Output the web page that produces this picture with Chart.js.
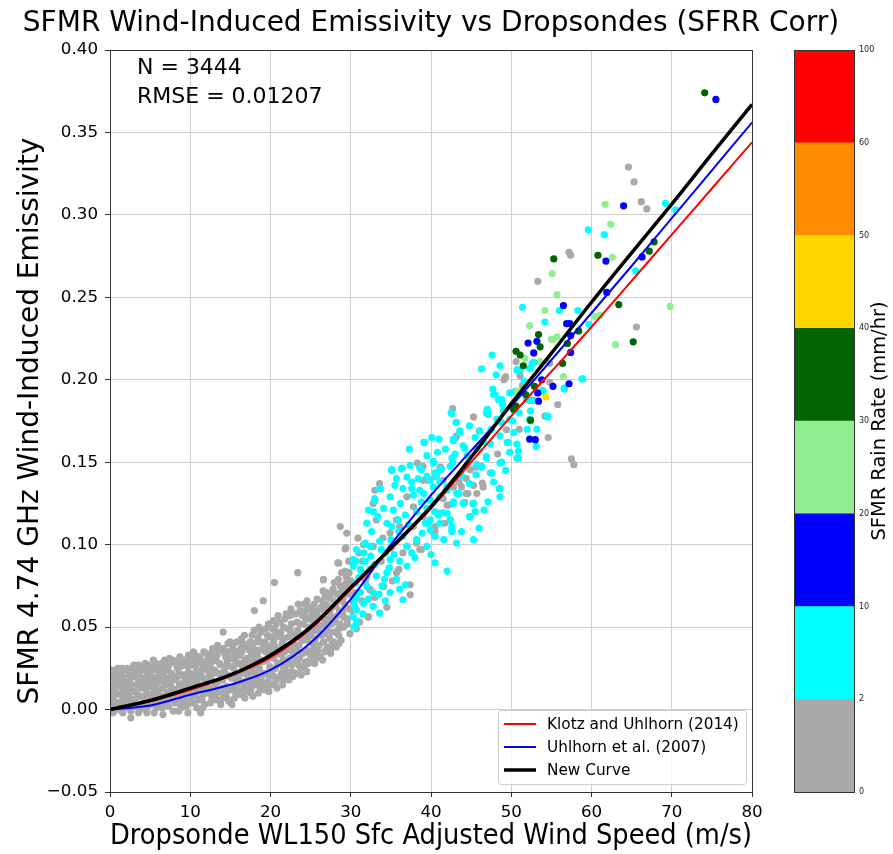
<!DOCTYPE html>
<html>
<head>
<meta charset="utf-8">
<script src="https://cdn.jsdelivr.net/npm/chart.js@4/dist/chart.umd.min.js"></script>
<style>
  html, body { margin: 0; padding: 0; background: #fff; }
  #wrap { position: relative; width: 893px; height: 854px; }
  #main { position: absolute; left: 0; top: 0; }
  #cbar { position: absolute; left: 773px; top: 0; }
</style>
</head>
<body>
<div id="wrap">
  <canvas id="main" width="893" height="854"></canvas>
  <canvas id="cbar" width="120" height="854"></canvas>
</div>
<script>
const FONT = 'DejaVu Sans'

// model curves, sampled every 5 m/s
const windGrid = [0, 5, 10, 15, 20, 25, 30, 35, 40, 45, 50, 55, 60, 65, 70, 75, 80]
const klotz2014 = [0, 0.005, 0.012, 0.0205, 0.0315, 0.049, 0.073, 0.097, 0.122, 0.150, 0.178, 0.205, 0.232, 0.260, 0.288, 0.316, 0.344]
const uhlhorn2007 = [0, 0.0025, 0.009, 0.015, 0.024, 0.0405, 0.067, 0.100, 0.130, 0.157, 0.184, 0.212, 0.2405, 0.269, 0.298, 0.327, 0.356]
const newCurve = [0, 0.0055, 0.013, 0.021, 0.033, 0.050, 0.074, 0.098, 0.123, 0.153, 0.1855, 0.216, 0.247, 0.277, 0.3065, 0.337, 0.367]

// rain-rate bins for the colour bar
const rainBins = ['0', '2', '10', '20', '30', '40', '50', '60', '100']
const rainColors = ['#a9a9a9', '#00ffff', '#0000ff', '#90ee90', '#006400', '#ffd700', '#ff8c00', '#ff0000']

// scatter points, flat x,y pairs, one list per rain bin
const rain0to2 = [
  0.1,0.002, 0.2,0.012, 0.3,0.020, 0.4,0.006, 0.5,0.016, 0.6,0.023, 0.7,0.000, 0.8,0.010, 0.9,0.018, 0.5,-0.001, 0.2,0.007, 0.9,0.004,
  0.05,0.014, 0.25,0.024, 0.35,-0.002, 0.45,0.009, 0.65,0.013, 0.75,0.021, 0.85,0.003, 0.95,0.025, 0.55,0.005,
  1.1,0.001, 1.3,0.014, 1.4,0.022, 1.6,0.007, 1.7,0.018, 1.9,0.003, 1.2,0.009, 1.8,0.012, 1.5,0.025, 1.6,-0.002,
  1.05,0.020, 1.25,0.004, 1.35,0.017, 1.45,-0.001, 1.65,0.011, 1.75,0.024, 1.85,0.006, 1.95,0.016, 1.55,0.020,
  2.1,0.016, 2.2,0.004, 2.4,0.021, 2.5,0.010, 2.6,-0.001, 2.7,0.015, 2.8,0.024, 2.9,0.006, 2.3,0.012, 2.6,-0.005,
  2.05,0.008, 2.15,0.025, 2.35,0.001, 2.45,0.017, 2.65,0.006, 2.75,0.020, 2.85,0.011, 2.95,0.027, 2.55,0.023,
  3.1,0.011, 3.2,0.025, 3.3,0.002, 3.5,0.018, 3.6,0.008, 3.7,0.022, 3.8,0.000, 3.9,0.013, 3.4,0.015, 3.6,0.027,
  3.05,0.020, 3.15,0.005, 3.35,0.023, 3.45,0.009, 3.65,0.016, 3.75,0.003, 3.85,0.026, 3.95,0.019, 3.55,-0.002,
  4.1,0.019, 4.2,0.005, 4.3,0.026, 4.5,0.012, 4.6,0.001, 4.7,0.022, 4.8,0.009, 4.9,0.016, 4.4,0.028, 4.6,-0.002,
  4.05,0.008, 4.15,0.024, 4.35,0.015, 4.45,0.003, 4.65,0.019, 4.75,0.027, 4.85,0.005, 4.95,0.023, 4.55,0.009,
  5.1,0.003, 5.2,0.014, 5.3,0.024, 5.5,0.008, 5.6,0.019, 5.7,0.028, 5.8,0.001, 5.9,0.012, 5.4,0.030, 5.5,-0.002,
  5.05,0.021, 5.15,0.009, 5.35,0.017, 5.45,0.026, 5.65,0.004, 5.75,0.015, 5.85,0.024, 5.95,0.020, 5.55,0.011,
  6.1,0.017, 6.2,0.007, 6.3,0.026, 6.5,0.001, 6.6,0.013, 6.7,0.022, 6.8,0.030, 6.9,0.005, 6.4,0.019, 6.6,-0.003,
  6.05,0.010, 6.15,0.024, 6.35,0.004, 6.45,0.028, 6.65,0.018, 6.75,0.008, 6.85,0.026, 6.95,0.015, 6.55,0.021,
  7.1,0.010, 7.2,0.024, 7.3,0.002, 7.5,0.016, 7.6,0.029, 7.7,0.007, 7.8,0.020, 7.9,0.012, 7.4,0.031, 7.9,-0.001,
  7.05,0.019, 7.15,0.004, 7.35,0.027, 7.45,0.011, 7.65,0.022, 7.75,0.013, 7.85,0.030, 7.95,0.006, 7.55,0.009,
  8.1,0.004, 8.2,0.018, 8.3,0.027, 8.5,0.010, 8.6,0.022, 8.7,0.032, 8.8,0.001, 8.9,0.014, 8.4,0.025, 8.6,0.007,
  8.05,0.012, 8.15,0.029, 8.35,0.008, 8.45,0.020, 8.65,0.015, 8.75,0.026, 8.85,0.004, 8.95,0.030, 8.55,-0.001,
  9.1,0.021, 9.2,0.008, 9.3,0.030, 9.5,0.002, 9.6,0.015, 9.7,0.026, 9.8,0.033, 9.9,0.010, 9.4,0.019, 9.7,-0.002,
  9.05,0.016, 9.15,0.027, 9.35,0.012, 9.45,0.005, 9.65,0.022, 9.75,0.031, 9.85,0.018, 9.95,0.005, 9.55,0.028,
  10.1,0.013, 10.2,0.027, 10.3,0.004, 10.5,0.020, 10.6,0.033, 10.7,0.009, 10.8,0.024, 10.9,0.016, 10.4,0.035, 10.8,0.001,
  10.05,0.022, 10.15,0.007, 10.35,0.030, 10.45,0.016, 10.65,0.011, 10.75,0.028, 10.85,0.020, 10.95,0.032, 10.55,0.004,
  11.1,0.006, 11.2,0.020, 11.3,0.030, 11.5,0.012, 11.6,0.025, 11.7,0.035, 11.8,0.003, 11.9,0.017, 11.4,0.028, 11.6,0.009, 11.3,-0.002,
  11.05,0.014, 11.15,0.032, 11.35,0.022, 11.45,0.006, 11.65,0.019, 11.75,0.028, 11.85,0.012, 11.95,0.034, 11.55,0.001,
  12.1,0.024, 12.2,0.010, 12.3,0.033, 12.5,0.004, 12.6,0.018, 12.7,0.029, 12.8,0.037, 12.9,0.013, 12.4,0.021, 12.7,0.007,
  12.05,0.016, 12.15,0.030, 12.35,0.013, 12.45,0.026, 12.65,0.011, 12.75,0.035, 12.85,0.022, 12.95,0.006, 12.55,0.032,
  13.1,0.015, 13.2,0.030, 13.3,0.006, 13.5,0.022, 13.6,0.036, 13.7,0.011, 13.8,0.027, 13.9,0.019, 13.4,0.039, 13.8,0.003,
  13.05,0.024, 13.15,0.009, 13.35,0.033, 13.45,0.017, 13.65,0.028, 13.75,0.005, 13.85,0.037, 13.95,0.013, 13.55,0.012,
  14.1,0.008, 14.2,0.023, 14.3,0.034, 14.5,0.014, 14.6,0.029, 14.7,0.040, 14.8,0.005, 14.9,0.020, 14.4,0.032, 14.6,0.011, 14.1,0.047,
  14.05,0.018, 14.15,0.037, 14.35,0.010, 14.45,0.026, 14.65,0.021, 14.75,0.035, 14.85,0.013, 14.95,0.041, 14.55,0.007,
  15.1,0.026, 15.2,0.012, 15.3,0.037, 15.5,0.007, 15.6,0.021, 15.7,0.032, 15.8,0.041, 15.9,0.016, 15.4,0.025, 15.7,0.009, 15.2,0.003,
  15.05,0.031, 15.15,0.019, 15.35,0.014, 15.45,0.040, 15.65,0.028, 15.75,0.018, 15.85,0.035, 15.95,0.011, 15.55,0.034,
  16.1,0.018, 16.2,0.033, 16.3,0.009, 16.5,0.026, 16.6,0.040, 16.7,0.014, 16.8,0.030, 16.9,0.022, 16.4,0.043, 16.8,0.007, 16.3,0.037,
  16.05,0.012, 16.15,0.028, 16.35,0.022, 16.45,0.035, 16.65,0.017, 16.75,0.045, 16.85,0.038, 16.95,0.013, 16.55,0.010,
  17.1,0.011, 17.2,0.027, 17.3,0.038, 17.5,0.017, 17.6,0.033, 17.7,0.045, 17.8,0.008, 17.9,0.024, 17.4,0.036, 17.6,0.013, 17.2,0.020,
  17.05,0.031, 17.15,0.016, 17.35,0.029, 17.45,0.041, 17.65,0.023, 17.75,0.039, 17.85,0.015, 17.95,0.048, 17.55,0.010,
  18.1,0.030, 18.2,0.015, 18.3,0.041, 18.5,0.010, 18.6,0.025, 18.7,0.036, 18.8,0.047, 18.9,0.020, 18.4,0.028, 18.7,0.013, 18.0,0.060, 18.3,0.021,
  18.05,0.019, 18.15,0.036, 18.35,0.033, 18.45,0.044, 18.65,0.017, 18.75,0.041, 18.85,0.030, 18.95,0.014, 18.55,0.050,
  19.1,0.022, 19.2,0.038, 19.3,0.012, 19.5,0.030, 19.6,0.045, 19.7,0.017, 19.8,0.034, 19.9,0.026, 19.4,0.049, 19.8,0.011, 19.1,0.066, 19.3,0.041,
  19.05,0.029, 19.15,0.016, 19.35,0.035, 19.45,0.022, 19.65,0.039, 19.75,0.052, 19.85,0.020, 19.95,0.044, 19.55,0.013,
  20.1,0.015, 20.2,0.032, 20.3,0.044, 20.5,0.020, 20.6,0.038, 20.7,0.052, 20.8,0.013, 20.9,0.028, 20.4,0.041, 20.6,0.025, 20.5,0.077, 20.2,0.049,
  20.05,0.037, 20.15,0.023, 20.35,0.054, 20.45,0.031, 20.65,0.017, 20.75,0.045, 20.85,0.034, 20.95,0.057, 20.55,0.048,
  21.1,0.036, 21.2,0.019, 21.3,0.047, 21.5,0.015, 21.6,0.030, 21.7,0.043, 21.8,0.055, 21.9,0.024, 21.4,0.033, 21.7,0.018, 21.2,0.053,
  21.05,0.028, 21.15,0.044, 21.35,0.022, 21.45,0.040, 21.65,0.050, 21.75,0.035, 21.85,0.021, 21.95,0.058, 21.55,0.026,
  22.1,0.028, 22.2,0.044, 22.3,0.018, 22.5,0.036, 22.6,0.052, 22.7,0.023, 22.8,0.040, 22.9,0.031, 22.4,0.057, 22.8,0.020, 22.2,0.049,
  22.05,0.037, 22.15,0.021, 22.35,0.031, 22.45,0.048, 22.65,0.027, 22.75,0.058, 22.85,0.034, 22.95,0.045, 22.55,0.061,
  23.1,0.022, 23.2,0.039, 23.3,0.053, 23.5,0.027, 23.6,0.045, 23.7,0.060, 23.8,0.021, 23.9,0.034, 23.4,0.048, 23.6,0.031, 23.4,0.083, 23.1,0.058,
  23.05,0.045, 23.15,0.030, 23.35,0.036, 23.45,0.064, 23.65,0.052, 23.75,0.025, 23.85,0.043, 23.95,0.057, 23.55,0.039,
  24.1,0.042, 24.2,0.026, 24.3,0.056, 24.5,0.023, 24.6,0.036, 24.7,0.050, 24.8,0.062, 24.9,0.030, 24.4,0.045, 24.7,0.028, 24.2,0.064,
  24.05,0.034, 24.15,0.052, 24.35,0.029, 24.45,0.060, 24.65,0.042, 24.75,0.055, 24.85,0.034, 24.95,0.047, 24.55,0.066,
  25.1,0.032, 25.2,0.049, 25.3,0.060, 25.5,0.028, 25.6,0.043, 25.7,0.057, 25.8,0.067, 25.9,0.036, 25.4,0.053, 25.7,0.031, 25.2,0.040,
  25.05,0.045, 25.15,0.057, 25.35,0.036, 25.45,0.064, 25.65,0.048, 25.75,0.039, 25.85,0.060, 25.95,0.051, 25.55,0.033,
  26.1,0.047, 26.2,0.032, 26.3,0.062, 26.5,0.030, 26.6,0.041, 26.7,0.055, 26.8,0.069, 26.9,0.036, 26.4,0.051, 26.6,0.079, 26.8,0.046,
  26.05,0.039, 26.15,0.056, 26.35,0.045, 26.45,0.066, 26.65,0.060, 26.75,0.035, 26.85,0.052, 26.95,0.064, 26.55,0.072,
  27.1,0.038, 27.2,0.055, 27.3,0.068, 27.5,0.034, 27.6,0.047, 27.7,0.062, 27.8,0.073, 27.9,0.041, 27.4,0.059, 27.0,0.071, 27.6,0.052,
  27.05,0.050, 27.15,0.062, 27.35,0.043, 27.45,0.070, 27.65,0.056, 27.75,0.040, 27.85,0.066, 27.95,0.077, 27.55,0.037,
  28.1,0.053, 28.2,0.038, 28.3,0.070, 28.5,0.045, 28.6,0.060, 28.7,0.075, 28.8,0.042, 28.9,0.066, 28.4,0.089, 28.7,0.111, 28.9,0.058, 28.5,0.049,
  28.05,0.047, 28.15,0.063, 28.35,0.057, 28.45,0.079, 28.65,0.052, 28.75,0.068, 28.85,0.083, 28.95,0.074, 28.55,0.040,
  29.1,0.050, 29.2,0.064, 29.3,0.076, 29.5,0.107, 29.4,0.098, 29.6,0.055, 29.7,0.070, 29.8,0.083, 29.9,0.046, 29.3,0.084, 29.0,0.059,
  29.05,0.068, 29.15,0.056, 29.35,0.062, 29.45,0.080, 29.65,0.073, 29.75,0.090, 29.85,0.061, 29.95,0.077, 29.55,0.052,
  30.2,0.060, 30.5,0.071, 30.9,0.104, 31.1,0.053, 31.4,0.066, 31.8,0.078, 32.2,0.056, 32.4,0.073, 32.0,0.081, 30.7,0.049, 31.5,0.090,
  33.0,0.068, 34.5,0.062, 35.2,0.078, 36.0,0.085, 33.8,0.090, 35.0,0.098, 34.0,0.104, 31.0,0.095, 30.0,0.078, 31.6,0.100,
  42.7,0.1825, 45.3,0.1775, 46.0,0.169, 43.1,0.165, 49.3,0.202, 49.1,0.200, 50.6,0.211, 51.0,0.170, 49.4,0.1697, 48.3,0.155,
  54.6,0.165, 55.8,0.185, 54.2,0.178, 54.8,0.210, 57.5,0.152, 57.8,0.1485, 44.9,0.1455, 46.4,0.1374, 46.5,0.135, 45.3,0.136,
  45.7,0.131, 44.6,0.131, 43.8,0.135, 44.2,0.1256, 43.5,0.138, 42.0,0.124, 41.7,0.113, 40.5,0.108, 38.8,0.097, 41.2,0.147,
  39.0,0.139, 43.2,0.166, 45.6,0.147, 38.3,0.1495, 33.6,0.137, 33.0,0.133, 32.8,0.125, 33.2,0.115, 35.7,0.115, 36.1,0.111,
  34.9,0.107, 40.3,0.1074, 40.5,0.111, 41.5,0.128, 42.2,0.124, 42.4,0.115, 41.1,0.119, 44.4,0.131, 44.4,0.140, 42.8,0.135,
  41.5,0.139, 40.5,0.1414, 39.5,0.139, 39.0,0.1475, 41.1,0.1465, 37.0,0.129, 37.8,0.123, 39.0,0.117, 37.8,0.111, 38.2,0.101,
  36.5,0.095, 35.7,0.083, 38.6,0.097, 37.4,0.0757, 29.3,0.0973, 28.5,0.0888, 29.3,0.0837, 26.6,0.0787, 32.8,0.099, 32.0,0.0807,
  32.4,0.0726, 34.1,0.0746, 28.7,0.0706, 27.0,0.0706, 30.3,0.0655, 32.2,0.0564, 28.9,0.0585, 37.0,0.099, 37.4,0.0696,
  64.6,0.329, 65.3,0.320, 66.2,0.308, 66.9,0.3036, 57.2,0.2773, 57.4,0.2755, 53.3,0.2597, 65.6,0.232, 51.1,0.2025, 49.2,0.201,
  54.8,0.1985, 51.4,0.1964, 54.3,0.178
]
const rain2to10 = [
  47.7,0.1944, 47.8,0.191, 48.9,0.185, 49.8,0.192, 42.5,0.180, 46.9,0.180, 43.2,0.174, 50.2,0.175, 43.6,0.168, 46.1,0.169,
  42.8,0.163, 44.0,0.160, 41.0,0.164, 40.1,0.165, 39.2,0.162, 37.3,0.158, 48.6,0.166, 47.4,0.161, 49.6,0.162, 50.7,0.1525,
  48.8,0.150, 46.9,0.1535, 45.7,0.1485, 44.4,0.1475, 47.6,0.1435, 46.3,0.147, 42.7,0.150, 41.3,0.146, 40.3,0.1495, 38.6,0.1465,
  37.4,0.148, 36.3,0.146, 35.1,0.145, 35.7,0.140, 37.0,0.141, 37.6,0.138, 36.5,0.134, 35.5,0.136, 33.6,0.134, 34.9,0.129,
  33.0,0.128, 34.1,0.122, 32.8,0.120, 33.4,0.117, 32.0,0.113, 32.6,0.108, 35.1,0.111, 35.9,0.115, 37.8,0.130, 38.6,0.133,
  39.9,0.139, 40.7,0.142, 42.0,0.135, 43.2,0.131, 42.8,0.126, 42.0,0.119, 40.9,0.118, 39.9,0.115, 42.6,0.109, 43.2,0.101,
  40.5,0.105, 39.5,0.099, 45.3,0.103, 44.9,0.117, 45.3,0.125, 48.6,0.134, 48.6,0.129, 40.5,0.089, 42.0,0.084, 38.2,0.103,
  37.0,0.099, 37.6,0.095, 36.1,0.090, 34.9,0.091, 34.3,0.095, 33.6,0.102, 32.4,0.099, 31.6,0.095, 30.7,0.090, 30.3,0.087,
  31.4,0.083, 32.4,0.085, 33.2,0.081, 34.5,0.083, 35.7,0.079, 36.1,0.073, 34.9,0.071, 33.9,0.075, 32.8,0.071, 32.0,0.075,
  31.2,0.071, 30.5,0.0665, 31.6,0.0645, 32.8,0.0625, 33.6,0.0585, 30.7,0.0605, 36.8,0.0757, 38.0,0.092, 36.5,0.105,
  39.1,0.162, 35.1,0.1455, 36.4,0.1465, 33.7,0.134, 33.0,0.127, 32.2,0.121, 31.8,0.101, 30.7,0.097, 30.3,0.091, 31.2,0.085,
  30.6,0.0767, 30.7,0.0686, 30.5,0.0625, 30.3,0.0564, 33.6,0.0585, 30.7,0.0524, 30.4,0.050, 30.7,0.054, 36.5,0.0666,
  47.6,0.215, 46.3,0.2067, 48.6,0.2085, 48.1,0.203, 48.0,0.191, 48.4,0.188, 47.0,0.182, 47.1,0.179, 43.1,0.174, 43.6,0.169,
  42.8,0.164, 44.2,0.1585, 50.7,0.206, 51.1,0.206, 52.3,0.207, 50.5,0.193, 49.8,0.176, 48.8,0.174, 49.5,0.162, 50.7,0.161,
  50.9,0.1566, 50.9,0.1525, 52.0,0.170, 53.2,0.170, 53.1,0.1596, 52.3,0.176, 52.4,0.181, 54.6,0.1775, 51.9,0.188, 52.8,0.1875,
  54.0,0.193, 56.6,0.1944, 58.9,0.2005, 52.6,0.210, 48.8,0.188, 48.6,0.1495, 47.4,0.1435, 46.3,0.1475, 45.6,0.1424, 46.9,0.1525,
  48.5,0.134, 47.1,0.126, 45.2,0.125, 44.0,0.125, 43.5,0.131, 42.8,0.125, 44.8,0.117, 42.6,0.108, 42.6,0.1525, 42.4,0.1475,
  41.2,0.1455, 40.3,0.1505, 40.5,0.1435, 39.5,0.1414, 38.8,0.1455, 41.1,0.138, 40.3,0.135, 39.1,0.131, 39.9,0.127, 41.1,0.129,
  42.0,0.133, 39.5,0.122, 40.5,0.120, 41.5,0.1195, 42.4,0.115, 39.7,0.113, 41.1,0.113, 39.9,0.109, 42.6,0.111,
  31.0,0.080, 31.8,0.090, 32.5,0.093, 33.0,0.088, 31.5,0.058, 32.2,0.067, 33.5,0.070, 34.2,0.079, 34.8,0.086, 35.4,0.094,
  33.8,0.097, 35.0,0.103, 36.0,0.108, 36.8,0.118, 37.2,0.112, 36.2,0.125, 35.3,0.121, 34.5,0.113, 38.2,0.120, 38.8,0.126,
  37.6,0.134, 38.4,0.140, 39.5,0.154, 40.8,0.156, 41.8,0.158, 43.0,0.155, 44.5,0.154, 45.8,0.158, 46.5,0.162, 47.5,0.170,
  48.2,0.176, 49.0,0.181, 44.8,0.172, 45.5,0.165, 43.8,0.142, 44.8,0.137, 45.5,0.120, 46.6,0.121, 47.8,0.138, 49.3,0.145,
  49.8,0.156, 50.3,0.168, 51.0,0.180, 51.6,0.199, 46.0,0.110, 43.8,0.108, 41.6,0.103, 40.0,0.094, 38.9,0.107, 39.3,0.113,
  37.0,0.087, 34.3,0.066,
  51.4,0.244, 56.0,0.242, 58.3,0.242, 54.2,0.235, 59.7,0.2336, 65.5,0.266, 52.8,0.2106, 50.8,0.206, 58.8,0.2005, 56.6,0.195,
  52.4,0.207, 53.9,0.1936, 52.3,0.1875, 54.5,0.178, 52.4,0.175, 42.6,0.1795, 69.2,0.307, 70.5,0.303, 59.6,0.291, 61.6,0.288
]
const rain10to20 = [
  52.8,0.2163, 52.1,0.2223, 53.2,0.2233, 56.5,0.245, 56.9,0.234, 57.3,0.234, 57.4,0.2268, 57.4,0.2166, 53.8,0.200, 55.2,0.196,
  57.2,0.1976, 53.3,0.192, 53.4,0.187, 61.9,0.253, 61.8,0.272, 64.0,0.3055, 66.3,0.2745, 75.5,0.370, 52.3,0.164, 53.0,0.1637
]
const rain20to30 = [
  61.7,0.3064, 62.4,0.2943, 62.6,0.2743, 55.1,0.2644, 55.7,0.2516, 54.2,0.242, 52.3,0.2328, 60.4,0.2385, 61.1,0.239, 63.0,0.2213,
  55.2,0.2243, 55.7,0.226, 51.7,0.213, 53.6,0.211, 56.5,0.202, 69.8,0.2445, 50.8,0.193, 55.0,0.2247
]
const rain30to40 = [
  74.1,0.374, 67.8,0.2836, 67.2,0.278, 60.8,0.2755, 55.3,0.2733, 63.4,0.2456, 58.4,0.2296, 53.4,0.2274, 65.2,0.223, 53.6,0.220,
  57.0,0.222, 50.6,0.2173, 51.1,0.215, 51.5,0.2085, 56.4,0.210, 52.9,0.196, 51.8,0.191, 50.6,0.184, 52.4,0.1755, 50.3,0.182
]
const rain40to50 = [54.3, 0.1896]

const rainSets = [rain0to2, rain2to10, rain10to20, rain20to30, rain30to40, rain40to50]

function pairs(flat) {
  const out = []
  for (let i = 0; i < flat.length; i += 2) out.push({ x: flat[i], y: flat[i + 1] })
  return out
}

function curve(ys) {
  return windGrid.map((x, i) => ({ x, y: ys[i] }))
}

const lineSets = [
  { label: 'New Curve', data: curve(newCurve), color: '#000000', width: 3.5, order: 0 },
  { label: 'Uhlhorn et al. (2007)', data: curve(uhlhorn2007), color: '#0000ff', width: 2, order: 1 },
  { label: 'Klotz and Uhlhorn (2014)', data: curve(klotz2014), color: '#ff0000', width: 2, order: 2 },
]
const legendOrder = ['Klotz and Uhlhorn (2014)', 'Uhlhorn et al. (2007)', 'New Curve']

const datasets = []
lineSets.forEach(l => {
  datasets.push({
    type: 'line',
    label: l.label,
    data: l.data,
    borderColor: l.color,
    backgroundColor: l.color,
    borderWidth: l.width,
    pointRadius: 0,
    tension: 0.35,
    order: l.order,
  })
})
rainSets.forEach((pts, i) => {
  datasets.push({
    type: 'scatter',
    label: 'rain ' + rainBins[i] + '-' + rainBins[i + 1],
    data: pairs(pts),
    backgroundColor: rainColors[i],
    borderWidth: 0,
    pointRadius: 3.6,
    order: 20 - i,
  })
})

const frame = {
  id: 'frame',
  afterDraw(chart) {
    const { ctx, chartArea: a } = chart
    ctx.save()
    ctx.strokeStyle = '#333'
    ctx.lineWidth = 1
    ctx.strokeRect(a.left + 0.5, a.top + 0.5, a.right - a.left, a.bottom - a.top)

    ctx.fillStyle = '#000'
    ctx.textAlign = 'center'
    ctx.textBaseline = 'alphabetic'
    ctx.font = '28px ' + FONT
    ctx.fillText('SFMR Wind-Induced Emissivity vs Dropsondes (SFRR Corr)', (a.left + a.right) / 2, 31)

    ctx.textAlign = 'left'
    ctx.font = '22px ' + FONT
    ctx.fillText('N = 3444', a.left + 27, 74)
    ctx.fillText('RMSE = 0.01207', a.left + 27, 103)

    // legend box, lower right
    const bx = 498, by = 710, bw = 248, bh = 74
    ctx.fillStyle = 'rgba(255,255,255,0.8)'
    ctx.strokeStyle = '#cccccc'
    ctx.beginPath()
    ctx.roundRect(bx + 0.5, by + 0.5, bw, bh, 3)
    ctx.fill()
    ctx.stroke()
    ctx.font = '15.3px ' + FONT
    ctx.textBaseline = 'middle'
    legendOrder.forEach((name, i) => {
      const ds = chart.data.datasets.find(d => d.label === name)
      const y = by + 14 + i * 23
      ctx.strokeStyle = ds.borderColor
      ctx.lineWidth = ds.borderWidth
      ctx.beginPath()
      ctx.moveTo(bx + 6, y)
      ctx.lineTo(bx + 38, y)
      ctx.stroke()
      ctx.fillStyle = '#000'
      ctx.fillText(name, bx + 49, y + 1)
    })
    ctx.restore()
  },
}

new Chart(document.getElementById('main'), {
  type: 'scatter',
  data: { datasets },
  options: {
    responsive: false,
    animation: false,
    events: [],
    layout: { padding: { top: 50, right: 141, bottom: 0, left: 0 } },
    plugins: { legend: { display: false }, tooltip: { enabled: false }, title: { display: false } },
    scales: {
      x: {
        type: 'linear',
        min: 0,
        max: 80,
        ticks: { stepSize: 10, color: '#000', font: { family: FONT, size: 16.7 }, padding: 6 },
        grid: { color: '#cfcfcf', tickColor: '#333', tickLength: 5 },
        border: { color: '#333' },
        title: {
          display: true,
          text: 'Dropsonde WL150 Sfc Adjusted Wind Speed (m/s)',
          color: '#000',
          font: { family: FONT, size: 28 },
          padding: { top: 0, bottom: 0 },
        },
        afterFit: s => { s.height = 62 },
      },
      y: {
        type: 'linear',
        min: -0.05,
        max: 0.4,
        ticks: {
          stepSize: 0.05,
          color: '#000',
          font: { family: FONT, size: 16.7 },
          padding: 7,
          callback: v => v.toFixed(2).replace('-', '\u2212'),
        },
        grid: { color: '#cfcfcf', tickColor: '#333', tickLength: 5 },
        border: { color: '#333' },
        title: {
          display: true,
          text: 'SFMR 4.74 GHz Wind-Induced Emissivity',
          color: '#000',
          font: { family: FONT, size: 28 },
          padding: { top: 14, bottom: 0 },
        },
        afterFit: s => { s.width = 110 },
      },
    },
  },
  plugins: [frame],
})

// colour bar as a stacked bar chart
const cbarFrame = {
  id: 'cbarFrame',
  afterDraw(chart) {
    const { ctx, chartArea: a } = chart
    ctx.save()
    ctx.strokeStyle = '#333'
    ctx.lineWidth = 1
    ctx.strokeRect(a.left + 0.5, a.top + 0.5, a.right - a.left, a.bottom - a.top)
    ctx.translate(107, (a.top + a.bottom) / 2)
    ctx.rotate(-Math.PI / 2)
    ctx.fillStyle = '#000'
    ctx.textAlign = 'center'
    ctx.textBaseline = 'middle'
    ctx.font = '19.4px ' + FONT
    ctx.fillText('SFMR Rain Rate (mm/hr)', 0, 0)
    ctx.restore()
  },
}

new Chart(document.getElementById('cbar'), {
  type: 'bar',
  data: {
    labels: ['rain'],
    datasets: rainColors.map((c, i) => ({
      label: rainBins[i] + '-' + rainBins[i + 1],
      data: [1],
      backgroundColor: c,
      borderWidth: 0,
      barPercentage: 1,
      categoryPercentage: 1,
    })),
  },
  options: {
    responsive: false,
    animation: false,
    events: [],
    layout: { padding: { top: 50, right: 0, bottom: 62, left: 21 } },
    plugins: { legend: { display: false }, tooltip: { enabled: false } },
    scales: {
      x: { stacked: true, display: false },
      y: {
        stacked: true,
        position: 'right',
        min: 0,
        max: rainColors.length,
        ticks: {
          stepSize: 1,
          color: '#222',
          font: { family: FONT, size: 8 },
          padding: 2,
          callback: v => rainBins[v],
        },
        grid: { display: false, drawTicks: true, tickColor: '#333', tickLength: 3 },
        border: { color: '#333' },
        afterFit: s => { s.width = 39 },
      },
    },
  },
  plugins: [cbarFrame],
})
</script>
</body>
</html>
